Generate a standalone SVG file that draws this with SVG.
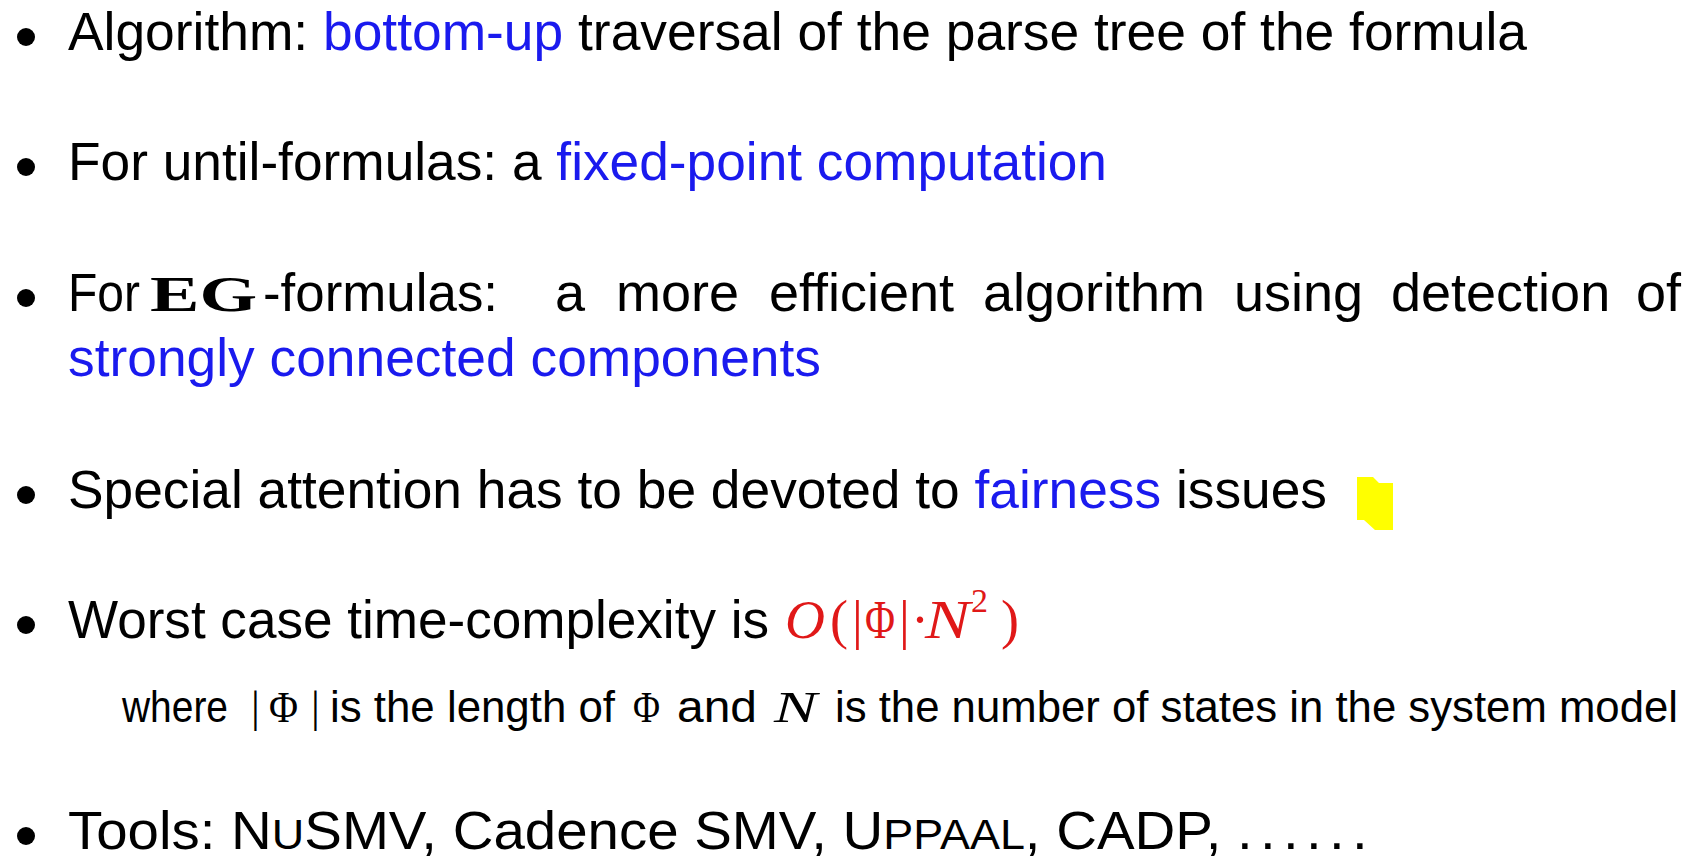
<svg xmlns="http://www.w3.org/2000/svg" width="1689" height="858" viewBox="0 0 1689 858">
  <style>
    .t { font-family: "Liberation Sans", Arial, sans-serif; font-size: 54px; fill: #000; }
    .s { font-family: "Liberation Sans", Arial, sans-serif; font-size: 44px; fill: #000; }
    .hl { fill: #1a1aee; }
    .m { font-family: "Liberation Serif", "Times New Roman", serif; }
    .red { fill: #e01818; }
    .bul { fill: #000; }
  </style>
  <rect width="1689" height="858" fill="#fff"/>

  <!-- bullet 1 -->
  <g id="item-algorithm">
    <circle class="bul" cx="26" cy="37" r="9"/>
    <text class="t" x="68" y="50" textLength="1459" lengthAdjust="spacingAndGlyphs">Algorithm: <tspan class="hl">bottom-up</tspan> traversal of the parse tree of the formula</text>
  </g>

  <!-- bullet 2 -->
  <g id="item-until">
    <circle class="bul" cx="26" cy="167" r="9"/>
    <text class="t" x="68" y="180" textLength="1039" lengthAdjust="spacingAndGlyphs">For until-formulas: a <tspan class="hl">fixed-point computation</tspan></text>
  </g>

  <!-- bullet 3 (justified first line) -->
  <g id="item-eg">
    <circle class="bul" cx="26" cy="298" r="9"/>
    <text class="t" x="68" y="311" textLength="72" lengthAdjust="spacingAndGlyphs">For</text>
    <text class="m" x="150" y="311" font-size="50" font-weight="bold" textLength="107" lengthAdjust="spacingAndGlyphs">EG</text>
    <text class="t" x="263" y="311" textLength="235" lengthAdjust="spacingAndGlyphs">-formulas:</text>
    <text class="t" y="311"><tspan x="555">a</tspan><tspan x="616">more</tspan><tspan x="769">efficient</tspan><tspan x="983">algorithm</tspan><tspan x="1234">using</tspan><tspan x="1391">detection</tspan><tspan x="1636">of</tspan></text>
    <text class="t hl" x="68" y="376" textLength="753" lengthAdjust="spacingAndGlyphs">strongly connected components</text>
  </g>

  <!-- bullet 4 -->
  <g id="item-fairness">
    <circle class="bul" cx="26" cy="495" r="9"/>
    <text class="t" x="68" y="508" textLength="1259" lengthAdjust="spacingAndGlyphs">Special attention has to be devoted to <tspan class="hl">fairness</tspan> issues</text>
    <path d="M1357 477 L1373 477 L1379 483 L1393 483 L1393 530 L1375 530 L1364 520 L1357 520 Z" fill="#ffff00"/>
  </g>

  <!-- bullet 5: complexity -->
  <g id="item-complexity">
    <circle class="bul" cx="26" cy="625" r="9"/>
    <text class="t" x="68" y="638" textLength="701" lengthAdjust="spacingAndGlyphs">Worst case time-complexity is</text>
    <!-- O(|Φ|·N²) -->
    <g class="m red" font-size="54">
      <text x="785" y="638" font-style="italic" textLength="40" lengthAdjust="spacingAndGlyphs">O</text>
      <text x="830" y="638">(</text>
      <text x="852" y="638">|</text>
      <text x="865" y="638" textLength="30" lengthAdjust="spacingAndGlyphs">Φ</text>
      <text x="899" y="638">|</text>
      <text x="911" y="638">·</text>
      <text x="925" y="638" font-style="italic" textLength="45" lengthAdjust="spacingAndGlyphs">N</text>
      <text x="971" y="612" font-size="34">2</text>
      <text x="1001" y="638">)</text>
    </g>
    <text class="s" x="122" y="722" textLength="106" lengthAdjust="spacingAndGlyphs">where</text>
    <g class="m" font-size="44" fill="#000">
      <text x="251" y="722">|</text>
      <text x="269" y="722" textLength="29" lengthAdjust="spacingAndGlyphs">Φ</text>
      <text x="311" y="722">|</text>
      <text x="633" y="722" textLength="27" lengthAdjust="spacingAndGlyphs">Φ</text>
      <text x="774" y="722" font-style="italic" textLength="43" lengthAdjust="spacingAndGlyphs">N</text>
    </g>
    <text class="s" x="330" y="722" textLength="285" lengthAdjust="spacingAndGlyphs">is the length of</text>
    <text class="s" x="677" y="722" textLength="80" lengthAdjust="spacingAndGlyphs">and</text>
    <text class="s" x="835" y="722" textLength="843" lengthAdjust="spacingAndGlyphs">is the number of states in the system model</text>
  </g>

  <!-- bullet 6: tools -->
  <g id="item-tools">
    <circle class="bul" cx="26" cy="836" r="9"/>
    <text class="t" x="68" y="849" textLength="1307" lengthAdjust="spacingAndGlyphs">Tools: N<tspan font-size="43">U</tspan>SMV, Cadence SMV, U<tspan font-size="43">PPAAL</tspan>, CADP, <tspan letter-spacing="7">......</tspan></text>
  </g>
</svg>
